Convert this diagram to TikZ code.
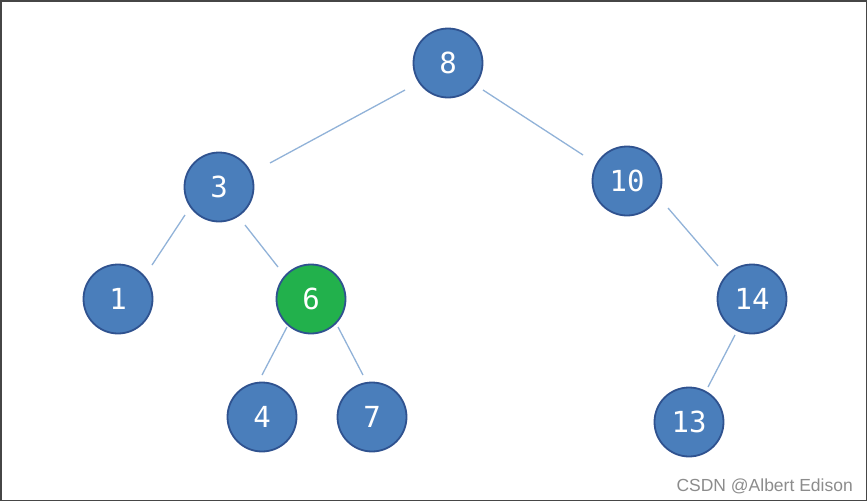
\documentclass[tikz,border=0pt]{standalone}
\usepackage{fontspec}
\usetikzlibrary{calc}
\setmonofont{DejaVu Sans Mono}
\newfontfamily\wmfont{Liberation Sans}
\definecolor{nodeblue}{RGB}{74,126,187}
\definecolor{nodeborder}{RGB}{47,82,143}
\definecolor{nodegreen}{RGB}{34,177,76}
\definecolor{edgeblue}{RGB}{145,178,216}
\definecolor{framegray}{RGB}{70,70,70}
\begin{document}
\begin{tikzpicture}[x=1pt,y=-1pt,
  tnode/.style={circle,draw=nodeborder,line width=1.8pt,fill=nodeblue,minimum size=69pt,inner sep=0pt,text=white,font=\ttfamily\fontsize{29}{31}\selectfont},
  gnode/.style={tnode,fill=nodegreen},
  edge/.style={draw=edgeblue,line width=1.3pt}]
\useasboundingbox (0,0) rectangle (867,501);
\draw[framegray,line width=1.5pt] (0.75,0.75) rectangle (866.25,500.25);
\node[tnode] (n8) at (448,63) {8};
\node[tnode] (n3) at (219,187) {3};
\node[tnode] (n10) at (627,181) {10};
\node[tnode] (n1) at (118,299) {1};
\node[gnode] (n6) at (311,299) {6};
\node[tnode] (n14) at (752,299) {14};
\node[tnode] (n4) at (262,417) {4};
\node[tnode] (n7) at (372,417) {7};
\node[tnode] (n13) at (689,422) {13};
\draw[edge] ($(n8)+(-43,27)$) -- ($(n3)+(51,-24)$);
\draw[edge] ($(n8)+(35,27)$) -- ($(n10)+(-44,-26)$);
\draw[edge] ($(n3)+(-34,28)$) -- ($(n1)+(34,-34)$);
\draw[edge] ($(n3)+(26,38)$) -- ($(n6)+(-33,-32)$);
\draw[edge] ($(n6)+(-24,28)$) -- ($(n4)+(0,-42)$);
\draw[edge] ($(n6)+(27,28)$) -- ($(n7)+(-9,-42)$);
\draw[edge] ($(n10)+(41,27)$) -- ($(n14)+(-34,-33)$);
\draw[edge] ($(n14)+(-17,36)$) -- ($(n13)+(19,-35)$);
\node[anchor=base east,inner sep=0pt,text=gray!90,font=\wmfont\fontsize{17.5}{19}\selectfont] (wm) at (853,491) {CSDN @Albert Edison};
\end{tikzpicture}
\end{document}
